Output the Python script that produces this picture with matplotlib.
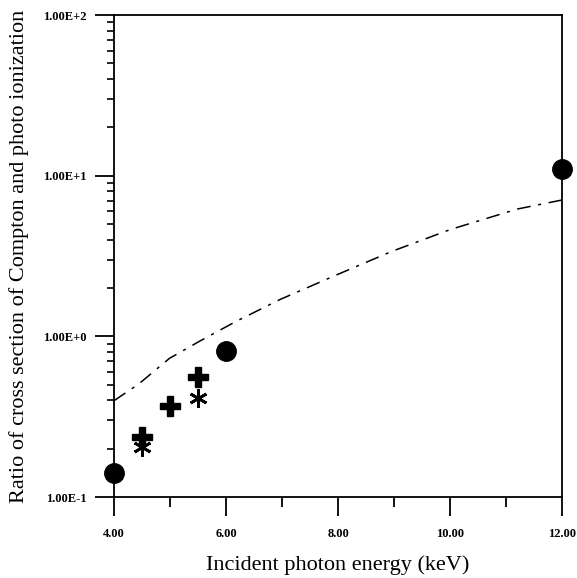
import numpy as np
import matplotlib
matplotlib.use("Agg")
import matplotlib.pyplot as plt
from matplotlib.ticker import FixedLocator, LogLocator, NullFormatter

plt.rcParams['font.family'] = ['Liberation Serif', 'DejaVu Serif']

# Data
circle_x = [4.0, 6.0, 12.0]
circle_y = [0.141, 0.81, 11.0]
plus_x = [4.5, 5.0, 5.5]
plus_y = [0.236, 0.367, 0.556]
star_x = [4.5, 5.5]
star_y = [0.204, 0.412]
curve_x = [4.0, 4.44, 4.99, 5.52, 6.18, 6.97, 8.03, 8.96, 10.01, 11.2, 12.0]
curve_y = [0.398, 0.505, 0.73, 0.93, 1.24, 1.70, 2.46, 3.38, 4.63, 6.2, 7.06]

x_ticks = [4, 6, 8, 10, 12]
x_tick_labels = ["4.00", "6.00", "8.00", "10.00", "12.00"]
y_ticks = [0.1, 1, 10, 100]
y_tick_labels = ["1.00E-1", "1.00E+0", "1.00E+1", "1.00E+2"]

fig = plt.figure(figsize=(5.77, 5.78), dpi=100)
ax = fig.add_axes([0.1976, 0.140, 0.7764, 0.834])

ax.plot(curve_x, curve_y, color='black', lw=1.1, dashes=(9, 5, 2, 5))
ax.plot(circle_x, circle_y, 'o', color='black', ms=14, clip_on=False, zorder=5)
ax.plot(plus_x, plus_y, 'P', color='black', ms=15, clip_on=False, zorder=5)
ax.plot(star_x, star_y, marker=(6, 2, 0), ls='none', color='black', ms=13,
        mew=2.0, clip_on=False, zorder=5)

ax.set_yscale('log')
ax.set_xlim(4, 12)
ax.set_ylim(0.1, 100)

ax.xaxis.set_major_locator(FixedLocator(x_ticks))
ax.set_xticklabels(x_tick_labels)
ax.xaxis.set_minor_locator(FixedLocator([5, 7, 9, 11]))
ax.yaxis.set_major_locator(FixedLocator(y_ticks))
ax.set_yticklabels(y_tick_labels)
ax.yaxis.set_minor_locator(LogLocator(base=10, subs=np.arange(2, 10)))
ax.yaxis.set_minor_formatter(NullFormatter())

ax.tick_params(axis='x', which='major', direction='out', length=14, width=1.3,
               pad=8, labelsize=9)
ax.tick_params(axis='x', which='minor', direction='out', length=7, width=1.3)
ax.tick_params(axis='y', which='major', direction='out', length=14, width=1.3,
               pad=6, labelsize=9)
ax.tick_params(axis='y', which='minor', direction='out', length=5, width=1.2)
for lab in ax.get_xticklabels() + ax.get_yticklabels():
    lab.set_fontweight('bold')

for s in ax.spines.values():
    s.set_linewidth(1.3)

ax.set_xlabel("Incident photon energy (keV)", fontsize=16, labelpad=11)
ax.set_ylabel("Ratio of cross section of Compton and photo ionization",
              fontsize=16, labelpad=10)
ax.yaxis.set_label_coords(-0.19, 0.5)

fig.savefig("out.png", dpi=100)
